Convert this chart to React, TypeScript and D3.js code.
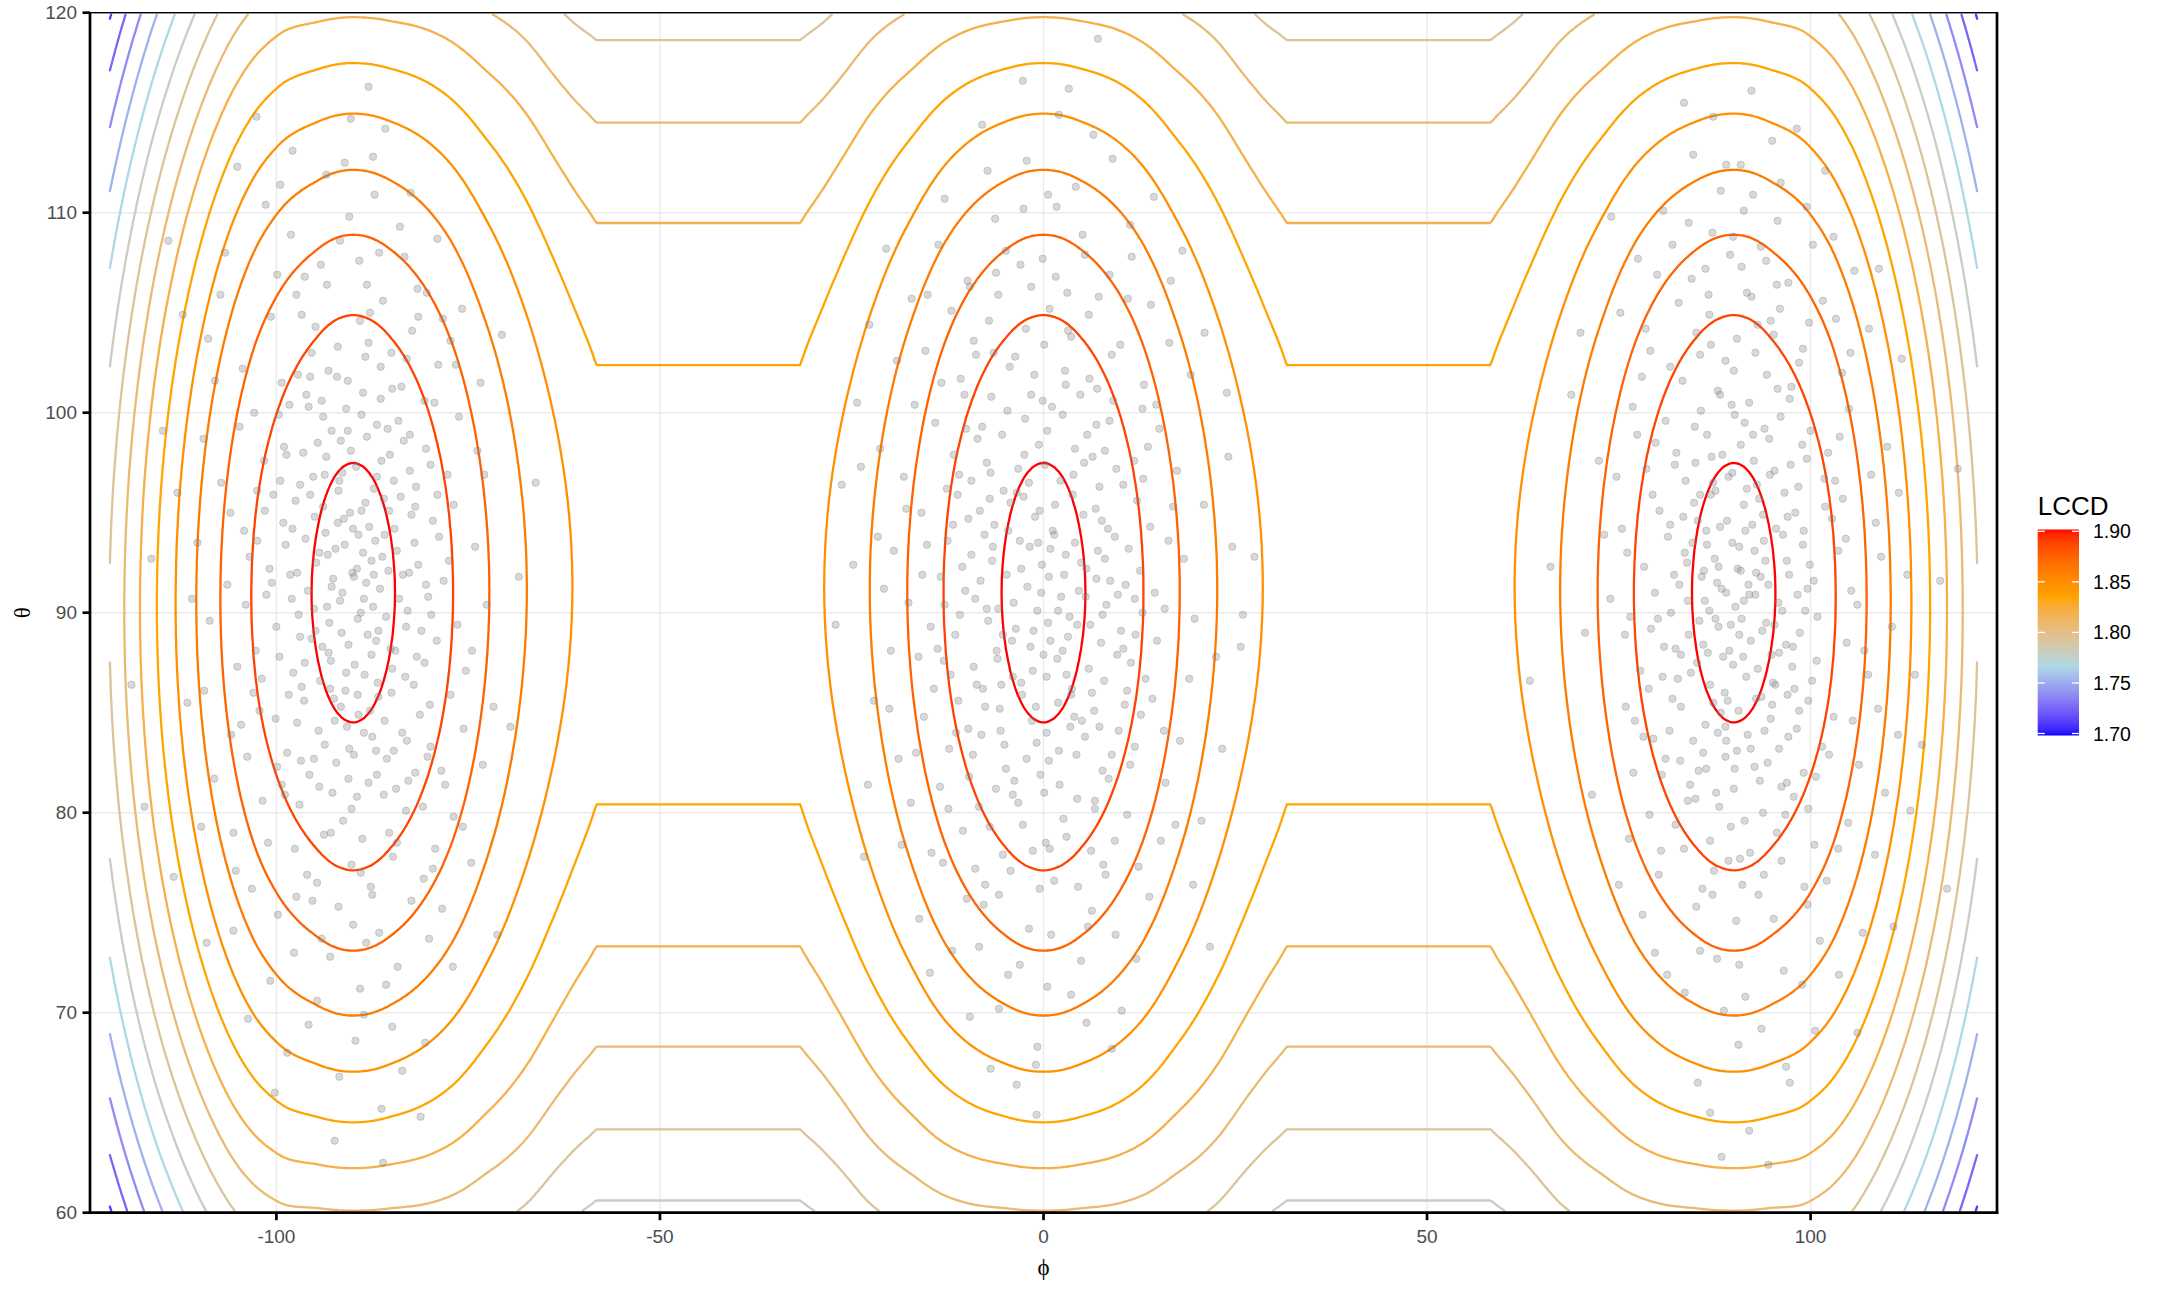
import React, { useMemo } from "react";
import * as d3 from "d3";

// ---------------- data ----------------
const PHI_AXIS = [-124.3, 124.3];
const THETA_AXIS = [60, 120];
const X_TICKS = [-100, -50, 0, 50, 100];
const Y_TICKS = [60, 70, 80, 90, 100, 110, 120];
const LEVELS = [1.7, 1.7133, 1.7267, 1.74, 1.7533, 1.7667, 1.78, 1.7933, 1.8067, 1.82, 1.8333, 1.8467, 1.86, 1.8733, 1.8867, 1.9];
const LEGEND_TICKS = [1.7, 1.75, 1.8, 1.85, 1.9];
const COLOR_VALUES = [1.7, 1.7667, 1.8333, 1.9];
const COLOR_NAMES = ["#0000FF", "#ADD8E6", "#FFA500", "#FF0000"];
const CENTERS_PHI = [-90, 0, 90];
const GRID_PHI = [-121.7, 121.7];
const GRID_THETA = [60.1, 119.9];
const GAP_HALF = 31.7;
// contour index (steps below the top level) along theta = centre, by squared phi-distance from the bump centre
const OUTER_U = [0, 29.2, 174.2, 302.8, 420.3, 538.2, 655.4, 767.3, 888.0, 1004.9];
const OUTER_M = [0, 0.33, 1.5, 2.55, 3.54, 4.54, 5.53, 6.48, 7.5, 8.48];
const INNER_U = [0, 29.7, 170.3, 315, 513, 818, 1004.9];
const INNER_M = [0, 0.33, 1.52, 2.52, 3.52, 4.52, 4.94];
// theta spread (squared theta per contour step) and theta centre, by squared phi-distance
const OUTER_W_U = [0, 92, 272, 1004.9];
const OUTER_W = [127, 139, 145, 146];
const OUTER_TC_U = [0, 1004.9];
const OUTER_TC = [91, 90];
const INNER_W_U = [0, 92, 272, 529, 702, 1004.9];
const INNER_W = [127, 141, 163, 189, 195, 207];
const INNER_TC_U = [0, 169, 513, 818, 1004.9];
const INNER_TC = [91, 91, 91.15, 91.3, 91.4];
const STEP_M = [0, 0.33, 1.52, 2.52];
const STEP_N = [-0.35, 0, 1, 2];

const POINTS_LEFT: [number, number][] = [
[-91.7,90.6],[-86.2,92.8],[-95.4,88.7],[-82.9,90.1],[-98.8,93.4],[-88.5,86.9],[-79.6,94.6],[-93.9,95.3],[-85.1,88.2],[-101.3,90.9],
[-89.3,93.9],[-76.4,89.4],[-96.7,86.3],[-83.8,95.8],[-92.6,91.7],[-104.2,94.1],[-87.4,90.3],[-80.7,87.5],[-94.8,92.5],[-99.6,87.8],
[-90.6,88.4],[-84.3,93.1],[-97.5,95.6],[-78.2,91.6],[-88.9,95.1],[-102.7,88.1],[-86.8,86.5],[-93.1,89.5],[-81.5,92.4],[-106.4,91.4],
[-91.2,94.7],[-85.7,89.8],[-95.9,91.1],[-74.1,93.3],[-89.8,87.4],[-100.4,95.9],[-83.2,86.8],[-92.3,93.2],[-87.9,94.3],[-97.1,89.9],
[-79.1,88.6],[-94.3,86.6],[-86.5,91.2],[-103.5,92.8],[-90.1,92.0],[-82.4,94.9],[-98.2,91.9],[-88.1,88.9],[-76.9,95.4],[-93.6,94.0],
[-84.9,87.2],[-108.7,89.6],[-91.0,86.1],[-80.2,90.8],[-96.2,93.7],[-87.1,93.6],[-101.9,86.7],[-89.0,90.0],[-83.5,91.9],[-95.1,90.2],
[-72.6,90.4],[-92.9,87.6],[-86.0,95.7],[-99.1,94.5],[-81.1,89.1],[-90.4,95.0],[-105.1,87.3],[-85.4,92.1],[-94.0,88.3],[-78.8,93.8],
[-88.3,91.5],[-97.8,87.0],[-82.1,86.4],[-91.5,89.0],[-110.3,93.5],[-84.6,94.2],[-93.3,92.9],[-87.6,87.9],[-75.3,87.1],[-100.9,92.2],
[-89.6,97.3],[-84.1,99.6],[-95.2,96.8],[-80.5,98.2],[-98.3,100.4],[-87.3,96.2],[-92.8,99.1],[-77.7,96.9],[-101.6,97.6],[-86.4,100.7],
[-94.6,98.5],[-82.6,97.1],[-104.8,99.3],[-90.9,100.2],[-85.2,97.9],[-96.9,96.4],[-79.4,100.5],[-91.8,96.6],[-88.2,98.8],[-107.2,96.5],
[-83.4,98.6],[-99.7,99.9],[-73.8,98.1],[-93.5,97.8],[-86.9,99.4],[-96.1,100.9],[-81.8,96.3],[-90.3,98.1],[-102.5,96.1],[-88.7,101.0],
[-76.2,99.8],[-94.1,100.6],[-84.7,96.6],[-109.5,98.7],[-91.4,97.0],
[-90.8,84.3],[-85.6,82.7],[-96.4,85.6],[-81.3,84.9],[-99.9,82.3],[-88.0,81.5],[-93.7,83.4],[-78.5,82.1],[-102.2,85.1],[-86.7,85.8],
[-95.7,81.9],[-83.0,83.6],[-105.9,83.9],[-91.6,85.3],[-84.4,81.2],[-97.3,84.5],[-80.0,85.4],[-92.2,82.5],[-88.6,84.0],[-108.1,81.7],
[-82.8,81.6],[-100.1,84.7],[-75.6,84.2],[-94.4,81.3],[-87.0,83.1],[-98.6,83.0],[-79.9,83.3],[-89.4,85.9],[-103.8,82.8],[-85.9,84.6],
[-73.1,82.4],[-92.5,85.7],[-81.9,82.0],[-111.6,85.5],[-89.9,82.9],
[-88.4,102.8],[-82.3,104.1],[-95.6,101.8],[-78.9,102.4],[-100.7,104.8],[-86.1,105.6],[-92.0,103.3],[-75.8,105.2],[-104.4,102.2],[-89.1,104.6],
[-97.4,105.9],[-83.7,101.3],[-108.9,103.7],[-90.7,101.6],[-85.0,103.0],[-94.9,104.3],[-80.4,106.0],[-99.3,101.5],[-87.8,105.0],[-112.2,104.9],
[-77.3,103.6],[-93.2,102.1],
[-91.3,79.6],[-84.8,77.8],[-97.0,80.4],[-80.8,76.7],[-101.1,78.5],[-87.7,76.3],[-93.8,78.9],[-76.9,79.8],[-105.3,77.1],[-89.5,80.8],
[-96.0,76.9],[-83.1,80.1],[-109.8,79.3],[-90.2,77.4],[-85.3,79.0],[-98.9,80.9],[-79.3,78.2],[-94.7,76.5],[-88.8,78.7],[-113.4,76.8],
[-74.6,77.5],[-92.7,81.0],
[-89.2,107.6],[-83.9,109.3],[-96.3,106.8],[-79.0,108.7],[-101.4,110.4],[-87.2,110.9],[-93.4,106.4],[-106.7,108.0],[-90.5,109.8],[-81.6,106.2],[-98.1,108.9],
[-90.0,74.4],[-84.2,72.3],[-95.3,75.6],[-80.1,73.7],[-100.8,71.6],[-87.5,75.9],[-93.0,72.8],[-105.6,74.1],[-89.1,71.2],[-78.4,75.2],[-97.7,73.0],
[-91.1,112.5],[-85.8,114.2],[-97.9,113.1],[-102.6,114.8],[-88.0,116.3],
[-89.7,68.6],[-83.6,67.1],[-95.8,69.4],[-100.2,66.0],[-86.3,65.2],[-92.4,63.6],[-81.2,64.8],
[-116.3,92.7],[-118.9,86.4],[-68.4,91.8],[-66.2,96.5],[-114.8,99.1],[-69.5,84.3],[-117.2,80.3],
[-89.5,92.2],[-93.4,90.3],[-86.7,89.1],[-97.3,92.0],[-82.0,93.5],[-90.9,87.0],[-95.0,94.8],[-84.0,90.7],[-100.0,89.3],[-88.7,93.0],
[-91.9,96.1],[-86.3,97.6],[-96.5,98.0],[-81.9,95.3],[-93.0,86.2],[-87.8,85.1],[-98.4,85.9],[-83.6,84.0],[-90.5,83.2],[-94.5,84.1],
[-85.5,99.2],[-92.1,101.8],[-79.9,97.4],[-101.5,95.1],[-88.0,103.5],[-95.4,103.0],[-83.0,102.7],[-99.0,98.3],[-77.5,92.6],[-104.0,90.4],
[-90.2,80.2],[-86.0,80.9],[-96.8,82.6],[-80.9,80.3],[-92.9,79.0],[-101.8,80.6],[-84.3,78.5],[-89.0,77.0],[-97.6,78.2],[-78.0,81.4],
[-87.3,91.9],[-92.0,94.5],[-85.9,93.9],[-98.0,90.7],[-80.5,91.4],[-94.9,89.1],[-89.4,89.7],[-83.1,89.3],[-102.5,93.6],[-91.4,91.0],
[-88.4,95.5],[-96.3,87.5],[-81.7,87.8],[-93.7,96.9],[-85.0,86.0],[-99.5,96.6],[-79.0,95.9],[-90.0,94.2],[-87.0,88.6],[-103.0,86.0],
[-91.6,98.6],[-84.9,101.2],[-97.2,101.9],[-80.7,100.6],[-93.9,99.8],[-88.9,99.9],[-102.9,100.0],[-76.6,102.4],[-86.4,102.3],[-95.8,100.3],
[-89.3,84.9],[-84.7,83.1],[-95.1,82.7],[-80.3,82.8],[-92.4,84.6],[-99.3,81.4],[-86.9,81.9],[-77.3,85.9],[-104.6,84.4],[-90.6,81.7],
[-88.2,106.4],[-94.2,107.4],[-83.3,107.8],[-99.9,106.9],[-91.7,108.6],[-86.6,108.0],[-78.3,104.7],[-107.3,105.9],[-96.7,104.9],[-81.5,104.8],
[-91.9,75.3],[-86.6,74.0],[-97.4,75.8],[-82.4,75.6],[-94.1,73.7],[-103.2,76.2],[-88.3,73.5],[-79.6,77.2],[-99.8,74.9],[-85.7,71.4],
[-92.8,91.3],[-87.6,92.6],[-82.7,92.0],[-97.9,94.2],[-85.3,95.1],[-94.4,93.0],[-89.9,91.8],[-100.6,91.5],[-79.8,89.9],[-96.9,88.8],
[-88.6,90.7],[-91.1,93.4],[-84.5,88.1],[-93.2,88.0],[-86.9,96.8],[-82.6,98.9],[-98.7,97.9],[-90.7,99.1],[-95.6,95.9],[-87.5,83.8],
[-106.0,95.0],[-74.5,88.1],[-109.4,86.1],[-72.9,96.9],[-111.0,90.7],[-71.7,85.3],[-108.0,101.6],[-73.4,101.5],[-105.6,79.0],[-75.7,79.3],
[-93.5,111.9],[-87.4,112.8],[-99.5,111.4],[-82.5,111.0],[-90.3,114.7],[-88.6,69.9],[-94.7,70.6],[-84.9,69.3],[-98.6,68.0],[-80.6,68.5],
[-91.8,66.8],[-86.1,62.5],[-103.7,69.7],[-77.0,72.3],[-109.1,73.5],[-71.2,73.9],[-112.9,96.0],[-70.6,103.9],[-114.1,108.6],[-105.1,112.3]
];

const POINTS_CENTER: [number, number][] = [
[-2.1,91.3],[3.4,89.8],[-6.7,92.6],[8.2,90.4],[-11.5,88.9],[1.2,94.1],[5.9,87.2],[-4.3,95.5],[12.6,92.1],[-8.9,90.7],
[0.4,86.8],[-15.2,93.4],[6.8,95.2],[-1.7,88.3],[10.1,89.1],[-13.4,91.8],[2.9,92.9],[-5.5,86.4],[15.8,90.2],[-9.8,94.7],
[4.6,91.1],[-3.1,93.6],[7.5,88.5],[-7.2,89.6],[13.9,94.3],[-0.8,90.1],[9.3,93.8],[-12.1,86.9],[1.8,87.7],[-17.6,90.5],
[5.2,94.9],[-4.8,91.9],[11.4,87.5],[-10.6,92.3],[3.7,86.2],[-2.6,95.8],[18.3,92.7],[-6.1,88.1],[8.7,91.6],[-14.7,89.3],
[0.9,93.2],[-8.3,95.1],[6.1,89.4],[-1.4,87.1],[12.2,95.6],[-19.5,93.1],[2.3,90.8],[-5.9,90.2],[14.8,88.6],[-11.2,95.9],
[7.9,86.6],[-3.6,89.2],[10.7,91.4],[-16.3,87.8],[4.1,93.5],[-0.2,92.4],[9.6,87.9],[-7.7,93.9],[16.9,95.3],[-9.1,87.3],
[1.5,95.4],[-12.9,90.4],[5.6,92.2],[-2.9,86.5],[11.9,90.7],[-6.4,94.4],[3.2,88.8],[-20.8,91.2],[7.1,93.1],[-4.1,88.6],
[13.3,86.7],[-10.2,91.1],[0.6,89.5],[-15.9,95.0],[8.4,94.2],[-1.1,94.8],[19.7,89.7],[-7.9,86.2],[2.7,91.9],[-13.8,88.2],
[-3.3,97.2],[5.7,98.9],[-9.4,96.6],[1.1,100.3],[11.8,97.6],[-14.1,99.5],[7.3,96.3],[-0.6,98.4],[-6.8,100.8],[15.1,99.2],
[3.9,96.9],[-11.7,97.9],[9.1,100.6],[-2.4,99.7],[-18.2,96.8],[6.4,97.8],[-5.2,96.1],[13.6,98.3],[0.2,97.4],[-8.6,98.7],
[2.5,99.9],[-16.8,100.4],[10.4,96.4],[-4.7,100.1],[17.4,97.1],[-12.6,96.2],[4.8,100.9],[-1.9,96.5],[8.0,98.1],[-21.3,98.2],
[12.9,100.2],[-7.4,97.5],[-0.1,100.6],[6.9,99.4],[-10.3,100.9],
[-1.5,84.6],[4.3,82.9],[-7.6,85.3],[9.8,84.1],[-12.3,83.2],[2.1,81.4],[-4.9,82.2],[14.2,85.7],[-9.7,81.8],[6.6,85.1],
[-0.9,83.5],[11.3,82.4],[-15.6,84.8],[3.5,84.3],[-6.2,81.2],[17.8,83.6],[-2.8,85.9],[8.5,81.7],[-11.1,85.6],[0.7,82.6],
[-18.9,82.7],[5.4,83.8],[-3.8,81.6],[12.7,84.9],[-8.1,83.9],[1.9,85.5],[-13.5,81.3],[7.7,82.1],[-5.6,84.1],[15.9,81.5],
[-0.4,81.9],[10.6,85.4],[-20.1,85.2],[4.0,84.8],[-9.2,82.9],
[-4.4,102.3],[3.6,103.8],[-10.8,101.7],[8.9,102.9],[0.8,105.2],[-7.1,104.6],[13.1,101.4],[-15.4,103.1],[5.9,104.9],[-1.2,101.9],
[11.0,105.7],[-19.1,102.6],[2.8,102.1],[-5.9,105.9],[16.4,103.5],[-12.0,105.1],[7.0,101.2],[-2.3,104.2],[-8.8,102.9],[19.2,101.9],
[0.1,103.4],[-22.7,104.4],
[-2.7,79.4],[6.2,78.1],[-8.4,80.3],[1.4,76.6],[10.9,79.9],[-13.1,77.5],[4.4,80.7],[-5.3,77.9],[15.3,78.6],[-0.5,76.2],
[8.1,76.9],[-10.5,79.1],[-17.3,80.5],[3.0,78.8],[12.4,77.3],[-4.0,80.9],[20.6,79.6],[-7.6,76.4],[0.3,78.5],[-14.6,78.0],
[6.7,80.2],[-23.4,77.8],
[-3.0,107.4],[5.1,108.9],[-9.9,106.6],[1.7,110.3],[11.5,107.8],[-6.3,109.7],[14.4,110.8],[-1.6,106.3],[8.6,106.9],[-13.7,108.4],[18.1,108.1],
[-1.9,74.2],[4.9,72.6],[-7.8,75.4],[9.4,73.9],[0.5,71.3],[-11.9,73.1],[13.8,75.8],[-4.6,71.9],[6.3,75.1],[-16.2,74.7],[21.7,73.3],
[-2.2,112.6],[6.5,113.9],[-8.0,114.4],[3.3,116.2],[7.1,118.7],[-2.7,116.6],
[-0.8,68.3],[5.6,69.5],[-6.9,67.2],[10.2,70.1],[-3.5,66.4],[-1.0,67.4],
[-24.8,92.4],[25.7,88.3],[-26.3,96.4],[24.1,97.8],[-22.1,85.6],[23.3,83.2],[27.5,92.8],
[0.7,91.8],[-3.9,90.5],[4.9,92.5],[-8.2,91.6],[9.7,90.9],[-1.3,89.1],[2.5,88.1],[-6.0,87.7],[6.3,86.0],[-10.9,89.9],
[1.4,93.9],[-4.6,94.1],[7.6,94.6],[-0.5,95.1],[11.1,93.2],[-12.5,93.6],[3.8,95.9],[-7.0,95.7],[14.5,91.0],[-15.8,91.9],
[-2.5,97.9],[4.1,98.2],[-8.0,99.3],[9.5,97.2],[0.5,99.1],[-5.4,98.9],[13.0,96.7],[-11.0,96.9],[2.9,101.4],[-3.7,102.8],
[-1.0,85.3],[5.0,84.6],[-5.1,83.4],[8.9,82.9],[0.1,81.0],[-9.8,84.2],[11.9,83.3],[-3.3,80.5],[2.6,79.7],[-7.0,79.3],
[1.9,90.1],[-2.9,92.2],[5.5,90.8],[-5.3,88.9],[8.0,92.7],[-9.4,92.9],[3.0,86.9],[-1.8,93.3],[10.4,88.2],[-13.0,87.6],
[6.9,91.7],[-7.4,90.2],[0.9,88.6],[-4.0,86.8],[12.9,90.0],[-11.8,94.4],[4.4,89.4],[-0.3,91.0],[-6.6,93.3],[7.7,89.9],
[-1.6,100.9],[6.0,101.7],[-9.1,103.6],[10.0,103.4],[3.2,104.1],[-6.5,103.0],[14.7,100.4],[-13.3,101.5],[1.6,106.8],[-4.9,108.1],
[0.4,84.0],[-2.2,82.7],[6.7,80.6],[-8.9,77.2],[4.5,76.3],[-12.4,80.2],[9.3,78.6],[-5.8,75.9],[1.0,73.9],[-3.1,72.4],
[16.3,93.6],[-17.9,95.2],[19.0,86.7],[-19.9,88.1],[15.7,84.1],[-16.6,83.0],[20.9,95.4],[-21.6,93.8],[17.2,79.4],[-18.5,78.4],
[-0.7,93.5],[2.2,96.6],[-3.5,96.0],[5.3,97.5],[-6.9,97.0],[8.6,99.6],[-10.1,99.2],[0.0,87.9],[3.6,85.9],[-5.7,85.2],
[7.3,84.3],[-8.7,86.4],[10.9,86.1],[-14.3,86.2],[12.0,88.9],[-11.4,84.0],[2.0,83.1],[-1.4,78.1],[7.8,77.4],[-10.0,75.7],
[-2.6,110.2],[4.2,111.3],[-7.3,112.1],[9.0,112.7],[-12.9,110.7],[2.0,114.9],[-5.8,70.2],[3.6,70.9],[8.9,68.2],[-9.6,69.8],
[-0.9,64.9],[12.1,72.7],[-14.8,72.0],[16.6,106.6],[-17.2,105.7],[21.0,104.0],[-20.5,108.2],[23.9,101.0],[-24.3,100.5],[19.5,76.4],
[-22.9,81.4],[26.0,89.9],[-27.1,89.4],[22.5,87.8],[-23.8,97.3],[24.6,93.3],[0.8,78.2],[-4.3,77.1],[5.8,74.3],[-8.4,73.3],
[3.1,106.0],[-0.1,107.7],[7.2,105.8],[-9.6,106.3],[11.3,109.4],[0.6,110.9],[-6.2,107.0],[5.4,107.9],[-15.1,105.9],[14.0,105.4]
];

const POINTS_RIGHT: [number, number][] = [
[88.4,91.2],[93.7,89.1],[84.6,93.5],[97.2,91.9],[80.9,88.3],[91.3,95.4],[100.8,87.6],[86.2,90.6],[95.5,94.2],[78.3,92.3],
[89.9,87.4],[103.6,93.1],[82.7,86.7],[94.1,92.6],[87.0,95.9],[99.3,90.1],[76.5,89.8],[92.2,88.6],[85.8,91.8],[106.1,90.4],
[90.7,93.3],[83.4,94.8],[97.9,86.2],[88.0,89.3],[101.9,95.3],[79.7,91.0],[94.9,87.9],[86.9,86.4],[92.8,90.9],[109.2,92.8],
[89.1,94.6],[81.8,90.0],[96.4,93.9],[84.1,88.9],[98.6,89.0],[75.4,94.2],[91.6,86.8],[87.5,92.7],[104.7,88.5],[93.3,95.7],
[80.3,95.1],[95.8,90.5],[85.2,87.5],[99.9,92.4],[90.2,90.3],[77.8,87.1],[92.9,92.0],[88.8,86.0],[102.8,94.7],[83.9,92.5],
[96.8,88.4],[73.9,90.7],[91.0,89.7],[86.4,94.1],[107.5,86.9],[94.5,91.4],[81.4,93.8],[89.4,88.1],[98.0,95.0],[85.5,89.6],
[100.4,91.6],[78.9,86.2],[93.9,93.6],[87.8,91.5],[110.6,89.3],[82.2,91.9],[95.1,86.5],[90.5,92.2],[84.8,95.5],[97.6,87.3],
[76.1,93.0],[92.4,94.4],[88.6,87.8],[105.3,91.1],[86.6,88.0],[99.0,93.4],[79.2,89.2],[94.2,89.5],[91.9,91.4],[83.1,87.9],
[89.3,96.8],[94.6,98.7],[85.0,97.5],[98.4,96.3],[81.1,99.6],[92.0,100.5],[102.3,98.0],[87.6,96.1],[96.1,99.8],[78.6,97.2],
[90.9,98.4],[105.0,100.2],[83.7,96.6],[95.3,97.1],[88.2,100.9],[100.0,99.1],[76.8,100.3],[93.0,96.4],[86.5,98.9],[107.9,96.9],
[91.4,99.5],[82.5,98.0],[97.3,100.7],[89.8,97.0],[103.2,96.6],[79.8,98.5],[94.0,99.2],[87.1,97.8],[99.5,97.7],[74.7,96.8],
[92.6,97.6],[85.7,100.1],[110.0,98.3],[90.1,99.9],[96.6,96.0],
[90.6,85.1],[95.9,83.2],[86.3,84.4],[99.1,82.0],[82.0,85.7],[93.4,81.6],[103.0,84.8],[88.9,82.8],[97.0,85.9],[79.5,83.7],
[91.8,83.9],[106.3,82.4],[84.3,81.4],[94.8,84.7],[87.3,85.5],[100.7,81.8],[77.1,84.6],[92.7,82.3],[86.0,83.0],[108.8,85.2],
[90.0,81.2],[83.0,82.6],[98.2,84.2],[88.3,85.0],[101.5,83.3],[80.6,81.9],[95.0,85.4],[85.4,82.1],[96.9,81.5],[75.9,85.3],
[93.6,85.8],[89.0,83.6],[111.4,83.9],[81.6,84.1],[99.7,85.6],
[88.9,102.6],[95.2,103.9],[83.3,101.6],[99.8,104.5],[79.1,103.1],[92.3,105.8],[104.1,102.0],[86.8,104.9],[97.5,101.3],[75.2,105.0],
[90.4,103.7],[107.6,104.2],[82.8,105.5],[94.3,101.9],[87.9,101.1],[101.6,105.6],[78.0,101.8],[93.1,104.4],[85.6,102.9],[111.9,102.7],
[91.7,106.0],[98.5,102.5],
[89.6,79.3],[96.2,77.6],[84.0,80.6],[100.5,78.4],[80.2,76.9],[93.8,80.0],[104.9,79.5],[87.4,77.1],[97.8,80.8],[76.3,78.7],
[91.1,76.4],[108.4,77.9],[83.5,78.2],[95.6,79.0],[88.1,80.3],[102.1,76.6],[79.0,79.9],[92.1,78.0],[85.9,76.2],[113.0,80.1],
[90.8,77.7],[99.2,76.3],
[89.5,107.9],[95.7,109.6],[84.5,106.7],[100.3,108.4],[80.8,110.1],[92.5,110.9],[105.7,107.1],[87.2,109.0],[97.1,106.5],[77.5,107.7],[93.5,108.3],
[90.3,74.6],[96.5,72.1],[85.1,75.3],[101.2,73.6],[81.3,71.9],[93.2,75.9],[106.8,74.0],[87.8,72.7],[98.9,71.4],[78.1,74.9],[91.5,70.8],
[89.0,112.4],[95.0,113.6],[84.7,112.9],[90.9,112.4],
[90.6,68.4],[96.8,67.3],[85.3,66.5],[92.0,64.1],[100.6,69.1],[88.4,62.8],
[116.9,91.6],[119.2,97.2],[66.1,92.3],[63.4,86.6],[114.5,83.4],[68.8,100.9],[117.8,76.2],
[90.9,92.1],[86.8,90.1],[95.3,89.4],[82.9,91.4],[99.6,91.2],[88.2,94.3],[93.8,94.9],[84.4,87.0],[97.7,88.3],[91.2,87.8],
[87.3,96.5],[92.5,98.9],[82.3,97.4],[98.9,98.4],[89.7,100.4],[95.7,101.2],[84.9,99.3],[101.8,96.7],[79.4,95.9],[104.2,95.7],
[89.2,85.6],[94.0,84.1],[84.7,83.6],[98.5,85.1],[90.4,83.1],[81.1,82.7],[96.2,81.3],[87.7,81.0],[102.4,82.9],[78.2,83.8],
[92.0,90.9],[88.0,92.3],[96.9,92.6],[83.6,93.0],[100.9,89.8],[86.0,88.4],[93.1,87.2],[80.1,89.7],[104.6,93.7],[89.6,89.4],
[91.7,96.2],[85.6,95.9],[97.4,97.4],[81.7,94.4],[94.7,96.9],[88.5,97.9],[103.8,98.8],[77.4,98.9],[99.1,94.1],[86.1,92.1],
[92.9,85.7],[87.9,84.0],[97.1,83.8],[83.1,85.3],[100.2,86.6],[90.1,82.2],[80.7,86.8],[105.5,84.6],[94.4,82.5],[85.0,80.7],
[90.0,102.1],[94.8,104.6],[85.1,104.0],[99.0,103.2],[81.7,102.3],[92.8,103.0],[103.3,104.7],[87.0,103.4],[96.0,105.2],[78.5,104.2],
[91.4,79.6],[86.9,78.6],[96.7,79.9],[82.4,79.4],[99.7,80.2],[89.3,77.6],[93.9,76.9],[80.5,78.1],[103.6,78.2],[87.2,75.9],
[90.7,88.9],[89.0,91.0],[92.7,93.1],[86.5,93.4],[95.9,88.0],[84.0,90.6],[98.3,90.9],[91.5,94.1],[82.4,88.2],[97.0,94.8],
[75.8,88.9],[107.0,88.1],[73.1,93.9],[108.5,94.5],[76.9,82.0],[109.7,81.0],[72.4,97.6],[111.5,96.0],[70.6,89.0],[112.6,91.9],
[89.9,108.8],[94.2,107.6],[84.1,109.5],[99.5,110.3],[91.3,110.1],[86.3,107.2],[103.0,108.8],[80.0,106.9],[96.1,111.5],[88.3,111.1],
[90.7,72.4],[95.2,74.7],[85.6,73.1],[99.6,75.4],[88.7,70.1],[93.6,69.2],[83.6,71.0],[103.7,71.9],[79.7,73.0],[97.3,66.5],
[86.9,65.0],[94.5,62.4],[106.1,69.0],[75.0,76.4],[110.8,74.3],[71.5,80.9],[113.6,86.9],[70.0,104.0],[108.9,107.2],[74.0,109.8],
[92.3,116.1],[87.3,114.8],[98.2,114.2],[83.5,115.5],[101.9,112.1],[91.0,107.3],[86.7,105.9],[95.6,106.4],[82.0,108.4],[105.2,103.0],
[89.8,93.5],[91.3,90.6],[87.6,89.7],[93.5,91.8],[85.3,94.6],[96.3,90.1],[88.9,84.3],[92.2,83.2],[86.4,82.2],[95.4,86.4]
];

// ---------------- layout ----------------
const WIDTH = 2159;
const HEIGHT = 1295;
const PANEL_LEFT = 90;
const PANEL_RIGHT = 1997;
const PANEL_TOP = 12.7;
const PANEL_BOTTOM = 1212.7;
const NX = 975;
const NY = 240;
const FONT = "'Liberation Sans', Arial, Helvetica, sans-serif";

const x = d3.scaleLinear().domain(PHI_AXIS).range([PANEL_LEFT, PANEL_RIGHT]);
const y = d3.scaleLinear().domain(THETA_AXIS).range([PANEL_BOTTOM, PANEL_TOP]);
const color = d3.scaleLinear<string>().domain(COLOR_VALUES).range(COLOR_NAMES).interpolate(d3.interpolateLab);

// monotone cubic (Fritsch-Carlson) interpolation through a read-off table
function monotone(xs: number[], ys: number[]) {
  const n = xs.length;
  const h: number[] = [];
  const s: number[] = [];
  for (let i = 0; i < n - 1; i++) {
    h[i] = xs[i + 1] - xs[i];
    s[i] = (ys[i + 1] - ys[i]) / h[i];
  }
  const m: number[] = new Array(n);
  m[0] = s[0];
  m[n - 1] = s[n - 2];
  for (let i = 1; i < n - 1; i++) {
    if (s[i - 1] * s[i] <= 0) m[i] = 0;
    else {
      const w1 = 2 * h[i] + h[i - 1];
      const w2 = h[i] + 2 * h[i - 1];
      m[i] = (w1 + w2) / (w1 / s[i - 1] + w2 / s[i]);
    }
  }
  return (v: number) => {
    if (v <= xs[0]) return ys[0] + m[0] * (v - xs[0]);
    if (v >= xs[n - 1]) return ys[n - 1] + m[n - 1] * (v - xs[n - 1]);
    const i = Math.min(n - 2, d3.bisectRight(xs, v) - 1);
    const t = (v - xs[i]) / h[i];
    const t2 = t * t;
    const t3 = t2 * t;
    return (2 * t3 - 3 * t2 + 1) * ys[i] + (t3 - 2 * t2 + t) * h[i] * m[i] + (-2 * t3 + 3 * t2) * ys[i + 1] + (t3 - t2) * h[i] * m[i + 1];
  };
}

const outerM = monotone(OUTER_U, OUTER_M);
const innerM = monotone(INNER_U, INNER_M);
const outerW = monotone(OUTER_W_U, OUTER_W);
const outerTc = d3.scaleLinear().domain(OUTER_TC_U).range(OUTER_TC).clamp(true);
const innerW = monotone(INNER_W_U, INNER_W);
const innerTc = monotone(INNER_TC_U, INNER_TC);
const stepMap = d3.scaleLinear().domain(STEP_M).range(STEP_N);
const LEVEL_STEP = (LEVELS[LEVELS.length - 1] - LEVELS[0]) / (LEVELS.length - 1);
const TOP_LEVEL = LEVELS[LEVELS.length - 1];

function lccd(phi: number, theta: number): number {
  let c = CENTERS_PHI[0];
  for (const cc of CENTERS_PHI) if (Math.abs(phi - cc) < Math.abs(phi - c)) c = cc;
  const signed = phi - c;
  const outer = (c === CENTERS_PHI[0] && signed < 0) || (c === CENTERS_PHI[CENTERS_PHI.length - 1] && signed > 0);
  const d = Math.min(Math.abs(signed), GAP_HALF);
  const u = d * d;
  const M = outer ? outerM(u) : innerM(u);
  const Wd = outer ? outerW(u) : innerW(u);
  const tc = outer ? outerTc(u) : innerTc(u);
  const t = theta - tc;
  const n = stepMap(M + (t * t) / Wd);
  return TOP_LEVEL - n * LEVEL_STEP;
}

function isolinePath(vals: Float64Array, level: number, px: (i: number) => number, py: (j: number) => number): string {
  const parts: string[] = [];
  for (let j = 0; j < NY - 1; j++) {
    for (let i = 0; i < NX - 1; i++) {
      const v00 = vals[j * NX + i];
      const v10 = vals[j * NX + i + 1];
      const v01 = vals[(j + 1) * NX + i];
      const v11 = vals[(j + 1) * NX + i + 1];
      let c = 0;
      if (v00 > level) c |= 1;
      if (v10 > level) c |= 2;
      if (v11 > level) c |= 4;
      if (v01 > level) c |= 8;
      if (c === 0 || c === 15) continue;
      const edge = (k: number): [number, number] => {
        if (k === 0) return [i + (level - v00) / (v10 - v00), j];
        if (k === 1) return [i + 1, j + (level - v10) / (v11 - v10)];
        if (k === 2) return [i + (level - v01) / (v11 - v01), j + 1];
        return [i, j + (level - v00) / (v01 - v00)];
      };
      let pairs: number[][] = [];
      const center = (v00 + v10 + v01 + v11) / 4;
      switch (c) {
        case 1: case 14: pairs = [[3, 0]]; break;
        case 2: case 13: pairs = [[0, 1]]; break;
        case 3: case 12: pairs = [[3, 1]]; break;
        case 4: case 11: pairs = [[1, 2]]; break;
        case 6: case 9: pairs = [[0, 2]]; break;
        case 7: case 8: pairs = [[3, 2]]; break;
        case 5: pairs = center > level ? [[0, 1], [2, 3]] : [[3, 0], [1, 2]]; break;
        case 10: pairs = center > level ? [[3, 0], [1, 2]] : [[0, 1], [2, 3]]; break;
      }
      for (const [a, b] of pairs) {
        const p = edge(a);
        const q = edge(b);
        parts.push(`M${px(p[0]).toFixed(1)},${py(p[1]).toFixed(1)}L${px(q[0]).toFixed(1)},${py(q[1]).toFixed(1)}`);
      }
    }
  }
  return parts.join("");
}

export default function App() {
  const contours = useMemo(() => {
    const phiAt = d3.scaleLinear().domain([0, NX - 1]).range(GRID_PHI);
    const thetaAt = d3.scaleLinear().domain([0, NY - 1]).range(GRID_THETA);
    const vals = new Float64Array(NX * NY);
    for (let j = 0; j < NY; j++) {
      const th = thetaAt(j);
      for (let i = 0; i < NX; i++) vals[j * NX + i] = lccd(phiAt(i), th);
    }
    const px = (i: number) => x(phiAt(i));
    const py = (j: number) => y(thetaAt(j));
    return LEVELS.map((lv) => ({ level: lv, d: isolinePath(vals, lv - 1e-9, px, py) }));
  }, []);

  const points = [...POINTS_LEFT, ...POINTS_CENTER, ...POINTS_RIGHT];

  // legend
  const legX = 2037.7;
  const legW = 41.3;
  const ly = d3.scaleLinear().domain([1.7, 1.9]).range([733.5, 531.3]);
  const stops = d3.range(0, 101).map((k) => {
    const v = 1.7 + (k / 100) * 0.2;
    return { off: k / 100, c: color(v) };
  });

  return (
    <svg width={WIDTH} height={HEIGHT} style={{ position: "absolute", left: 0, top: 0, background: "#fff" }}>
      <defs>
        <linearGradient id="lccdGrad" x1="0" y1="1" x2="0" y2="0">
          {stops.map((s) => (
            <stop key={s.off} offset={s.off} stopColor={s.c} />
          ))}
        </linearGradient>
        <clipPath id="panelClip">
          <rect x={PANEL_LEFT} y={PANEL_TOP} width={PANEL_RIGHT - PANEL_LEFT} height={PANEL_BOTTOM - PANEL_TOP} />
        </clipPath>
      </defs>
      <rect x={0} y={0} width={WIDTH} height={HEIGHT} fill="#fff" />
      {/* grid */}
      <g stroke="#ebebeb" strokeWidth={1.4}>
        {X_TICKS.map((t) => (
          <line key={"gx" + t} x1={x(t)} x2={x(t)} y1={PANEL_TOP} y2={PANEL_BOTTOM} />
        ))}
        {Y_TICKS.map((t) => (
          <line key={"gy" + t} x1={PANEL_LEFT} x2={PANEL_RIGHT} y1={y(t)} y2={y(t)} />
        ))}
      </g>
      {/* contours */}
      <g clipPath="url(#panelClip)" fill="none" strokeWidth={2.3} strokeLinecap="round" strokeLinejoin="round">
        {contours.map((c) => (
          <path key={c.level} d={c.d} stroke={color(c.level)} />
        ))}
      </g>
      {/* points */}
      <g fill="#7f7f7f" fillOpacity={0.3} stroke="#7f7f7f" strokeOpacity={0.3} strokeWidth={1}>
        {points.map((p, i) => (
          <circle key={i} cx={x(p[0])} cy={y(p[1])} r={3.7} />
        ))}
      </g>
      {/* panel border and axes */}
      <rect x={PANEL_LEFT} y={PANEL_TOP} width={PANEL_RIGHT - PANEL_LEFT} height={PANEL_BOTTOM - PANEL_TOP} fill="none" stroke="#000" strokeWidth={1.4} />
      <line x1={PANEL_LEFT} x2={PANEL_LEFT} y1={PANEL_TOP - 0.7} y2={PANEL_BOTTOM + 1.3} stroke="#000" strokeWidth={2.7} />
      <line x1={PANEL_LEFT - 1.3} x2={PANEL_RIGHT + 1.3} y1={PANEL_BOTTOM} y2={PANEL_BOTTOM} stroke="#000" strokeWidth={2.7} />
      <line x1={PANEL_RIGHT} x2={PANEL_RIGHT} y1={PANEL_TOP - 0.7} y2={PANEL_BOTTOM + 1.3} stroke="#000" strokeWidth={2.7} />
      {/* ticks */}
      <g stroke="#000" strokeWidth={2.7}>
        {X_TICKS.map((t) => (
          <line key={"tx" + t} x1={x(t)} x2={x(t)} y1={PANEL_BOTTOM} y2={PANEL_BOTTOM + 7.5} />
        ))}
        {Y_TICKS.map((t) => (
          <line key={"ty" + t} x1={PANEL_LEFT - 7.5} x2={PANEL_LEFT} y1={y(t)} y2={y(t)} />
        ))}
      </g>
      <g fill="#4d4d4d" fontFamily={FONT} fontSize={19}>
        {X_TICKS.map((t) => (
          <text key={"lx" + t} x={x(t)} y={PANEL_BOTTOM + 30} textAnchor="middle">
            {String(t)}
          </text>
        ))}
        {Y_TICKS.map((t) => (
          <text key={"ly" + t} x={77} y={y(t)} textAnchor="end" dominantBaseline="central">
            {String(t)}
          </text>
        ))}
      </g>
      {/* axis titles */}
      <text x={x(0)} y={1275} textAnchor="middle" fontFamily="'Liberation Serif', 'DejaVu Serif', serif" fontSize={23} fill="#000">
        ϕ
      </text>
      <text
        transform={`translate(30, ${(PANEL_TOP + PANEL_BOTTOM) / 2}) rotate(-90)`}
        textAnchor="middle"
        fontFamily="'Liberation Serif', 'DejaVu Serif', serif"
        fontSize={23}
        fill="#000"
      >
        θ
      </text>
      {/* legend */}
      <text x={legX} y={515} fontFamily={FONT} fontSize={26} fill="#000">
        LCCD
      </text>
      <rect x={legX} y={529.5} width={legW} height={206} fill="url(#lccdGrad)" />
      <g stroke="#fff" strokeWidth={1.3}>
        {LEGEND_TICKS.map((t) => (
          <g key={"lt" + t}>
            <line x1={legX} x2={legX + 7} y1={ly(t)} y2={ly(t)} />
            <line x1={legX + legW - 7} x2={legX + legW} y1={ly(t)} y2={ly(t)} />
          </g>
        ))}
      </g>
      <g fontFamily={FONT} fontSize={19.5} fill="#000">
        {LEGEND_TICKS.map((t) => (
          <text key={"ll" + t} x={2093} y={ly(t)} dominantBaseline="central">
            {t.toFixed(2)}
          </text>
        ))}
      </g>
    </svg>
  );
}
